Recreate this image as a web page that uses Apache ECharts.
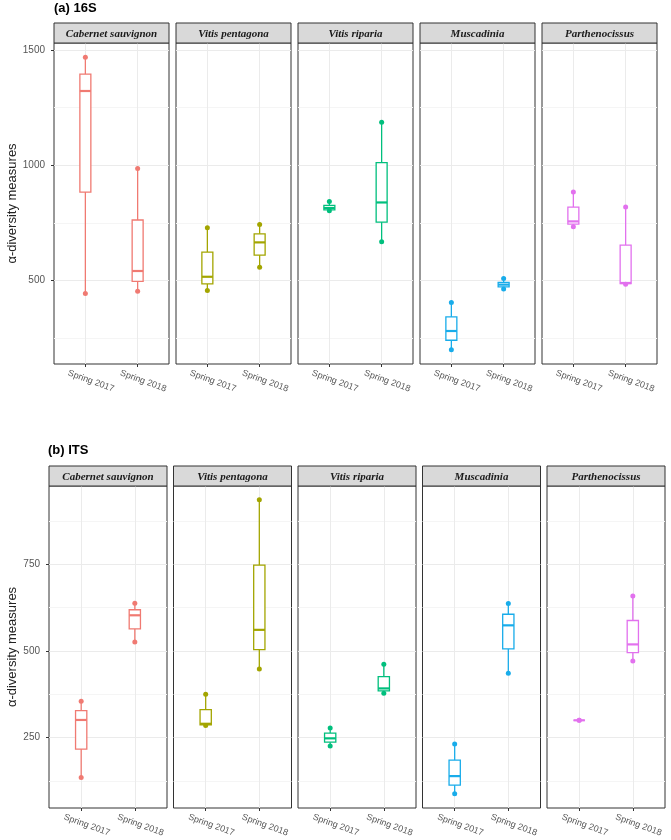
<!DOCTYPE html>
<html><head><meta charset="utf-8">
<script src="https://cdn.jsdelivr.net/npm/echarts@6/dist/echarts.min.js"></script>
<style>html,body{margin:0;padding:0;background:#fff}#c{width:671px;height:840px}</style>
</head><body><div id="c"></div>
<script>
// ---------------- data ----------------
const categories = ['Spring 2017', 'Spring 2018'];
const hosts = ['Cabernet sauvignon', 'Vitis pentagona', 'Vitis riparia', 'Muscadinia', 'Parthenocissus'];
const hostColors = ['#F07A72', '#A3A500', '#00BF7D', '#18ACEA', '#E271EE'];

// each entry: [min, Q1, median, Q3, max] for Spring 2017, then Spring 2018
const s16_cabernet      = [[445, 884, 1322, 1395, 1468], [454, 497, 542, 763, 986]];
const s16_pentagona     = [[457, 486, 517, 624, 729],    [558, 611, 666, 703, 744]];
const s16_riparia       = [[803, 807, 815, 826, 843],    [669, 754, 839, 1012, 1187]];
const s16_muscadinia    = [[201, 242, 282, 343, 406],    [464, 473, 483, 493, 510]];
const s16_parthenocissus= [[734, 745, 757, 819, 884],    [485, 487, 490, 654, 819]];

const its_cabernet      = [[135, 217, 301, 328, 355],    [526, 564, 603, 619, 638]];
const its_pentagona     = [[285, 287, 290, 331, 375],    [448, 504, 561, 748, 936]];
const its_riparia       = [[226, 237, 248, 263, 278],    [378, 385, 392, 426, 462]];
const its_muscadinia    = [[88, 113, 139, 185, 232],     [436, 506, 574, 606, 637]];
const its_parthenocissus= [[300, 300, 300, 300, 300],    [471, 495, 519, 588, 659]];

const yTicks16S = [500, 1000, 1500];
const yMinor16S = [250, 750, 1250];
const yTicksITS = [250, 500, 750];
const yMinorITS = [125, 375, 625, 875];

const rowsData = [
  { title: '(a) 16S', sets: [s16_cabernet, s16_pentagona, s16_riparia, s16_muscadinia, s16_parthenocissus], ticks: yTicks16S, minor: yMinor16S },
  { title: '(b) ITS', sets: [its_cabernet, its_pentagona, its_riparia, its_muscadinia, its_parthenocissus], ticks: yTicksITS, minor: yMinorITS }
];

// ---------------- layout ----------------
const layouts = [
  { lefts: [54, 176, 298, 420, 542], width: 115, stripTop: 23, plotTop: 43, plotBottom: 364, yMin: 139, yMax: 1530, titleX: 54, titleY: 8, nameGap: 34 },
  { lefts: [49, 173.5, 298, 422.5, 547], width: 118, stripTop: 466, plotTop: 486, plotBottom: 808, yMin: 47, yMax: 976, titleX: 48, titleY: 450, nameGap: 30 }
];
const STRIP_H = 20;
const BOX_W = 0.21;

function renderBox(params, api) {
  const x = api.value(0);
  const pMin = api.coord([x, api.value(1)]);
  const pQ1 = api.coord([x, api.value(2)]);
  const pMed = api.coord([x, api.value(3)]);
  const pQ3 = api.coord([x, api.value(4)]);
  const pMax = api.coord([x, api.value(5)]);
  const hw = api.size([BOX_W, 0])[0] / 2;
  const color = api.visual('color');
  const cx = pMed[0];
  return {
    type: 'group',
    children: [
      { type: 'line', shape: { x1: cx, y1: pMax[1], x2: cx, y2: pQ3[1] }, style: { stroke: color, lineWidth: 1.3 } },
      { type: 'line', shape: { x1: cx, y1: pQ1[1], x2: cx, y2: pMin[1] }, style: { stroke: color, lineWidth: 1.3 } },
      { type: 'rect', shape: { x: cx - hw, y: pQ3[1], width: hw * 2, height: pQ1[1] - pQ3[1] }, style: { fill: '#fff', stroke: color, lineWidth: 1.3 } },
      { type: 'line', shape: { x1: cx - hw, y1: pMed[1], x2: cx + hw, y2: pMed[1] }, style: { stroke: color, lineWidth: 2.2 } }
    ]
  };
}

const grid = [], xAxis = [], yAxis = [], series = [], graphic = [];

rowsData.forEach((row, r) => {
  const L = layouts[r];
  graphic.push({
    type: 'text', left: L.titleX, top: L.titleY - 6, silent: true,
    style: { text: row.title, font: 'bold 13px "Liberation Sans", Arial, sans-serif', fill: '#000' }
  });
  hosts.forEach((host, p) => {
    const g = r * 5 + p;
    const left = L.lefts[p];
    grid.push({
      left: left, top: L.plotTop, width: L.width, height: L.plotBottom - L.plotTop,
      show: true, borderColor: '#333', borderWidth: 1, backgroundColor: 'transparent'
    });
    xAxis.push({
      type: 'value', gridIndex: g, min: 0.4, max: 2.6,
      axisLine: { show: false },
      axisTick: { show: true, length: 3, customValues: [1, 2], lineStyle: { color: '#333', width: 1 } },
      axisLabel: {
        show: true, customValues: [1, 2],
        formatter: v => categories[Math.round(v) - 1],
        rotate: -20, align: 'center', verticalAlign: 'middle', margin: 15, padding: [0, 0, 0, 12],
        fontSize: 9, color: '#555', fontFamily: '"Liberation Sans", Arial, sans-serif'
      },
      splitLine: { show: true, lineStyle: { color: '#EBEBEB', width: 1 } }
    });
    const first = p === 0;
    yAxis.push({
      type: 'value', gridIndex: g, min: L.yMin, max: L.yMax, position: 'left',
      axisLine: { show: false },
      axisTick: { show: first, length: 3, customValues: row.ticks, lineStyle: { color: '#333', width: 1 } },
      axisLabel: { show: first, customValues: row.ticks, formatter: v => String(v), margin: 9, fontSize: 10, color: '#555', fontFamily: '"Liberation Sans", Arial, sans-serif' },
      splitLine: { show: true, lineStyle: { color: '#EBEBEB', width: 1 } },
      name: first ? 'α-diversity measures' : '', nameLocation: 'middle', nameGap: L.nameGap,
      nameTextStyle: { fontSize: 13, color: '#222', fontFamily: '"Liberation Sans", Arial, sans-serif' }
    });
    yAxis.push({
      type: 'value', gridIndex: g, min: L.yMin, max: L.yMax, position: 'left',
      axisLine: { show: false },
      axisTick: { show: false, customValues: row.minor },
      axisLabel: { show: false, customValues: row.minor },
      splitLine: { show: true, lineStyle: { color: '#F5F5F5', width: 1 } }
    });
    const sets = row.sets[p];
    series.push({
      type: 'custom', xAxisIndex: g, yAxisIndex: 2 * g, z: 3,
      renderItem: renderBox,
      itemStyle: { color: hostColors[p] },
      encode: { x: 0, y: [1, 2, 3, 4, 5] },
      data: sets.map((v, i) => [i + 1].concat(v)),
      silent: true
    });
    const dots = [];
    sets.forEach((v, i) => { dots.push([i + 1, v[0]]); dots.push([i + 1, v[4]]); });
    series.push({
      type: 'scatter', xAxisIndex: g, yAxisIndex: 2 * g, z: 4,
      symbolSize: 5, itemStyle: { color: hostColors[p], opacity: 1 },
      data: dots, silent: true
    });
    graphic.push({
      type: 'rect', silent: true, z: 10,
      shape: { x: left, y: L.stripTop, width: L.width, height: STRIP_H },
      style: { fill: '#D9D9D9', stroke: '#333', lineWidth: 1 }
    });
    graphic.push({
      type: 'text', silent: true, z: 11,
      x: left + L.width / 2, y: L.stripTop + STRIP_H / 2 + 1,
      style: { text: host, align: 'center', verticalAlign: 'middle', font: 'italic bold 11px "Liberation Serif", "Times New Roman", serif', fill: '#1a1a1a' }
    });
  });
});

const chart = echarts.init(document.getElementById('c'), null, { renderer: 'canvas' });
chart.setOption({
  animation: false,
  backgroundColor: '#fff',
  grid, xAxis, yAxis, series, graphic
});
</script>
</body></html>
